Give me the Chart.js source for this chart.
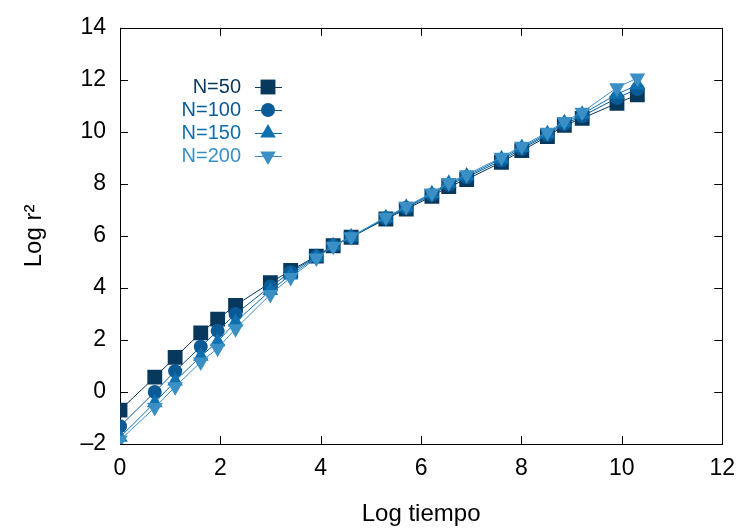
<!DOCTYPE html>
<html>
<head>
<meta charset="utf-8">
<script src="https://cdn.jsdelivr.net/npm/chart.js@4"></script>
<style>
  body { margin: 0; background: #fff; }
  #wrap { width: 746px; height: 529px; }
</style>
</head>
<body>
<div id="wrap"><canvas id="canvas"></canvas></div>
<script>
// log(tiempo) for each sample
const logTiempo = [0, 0.693, 1.099, 1.609, 1.946, 2.303, 2.996, 3.401, 3.912, 4.248, 4.605,
  5.298, 5.704, 6.215, 6.551, 6.908, 7.601, 8.006, 8.517, 8.854, 9.210, 9.903, 10.309];

// log r^2 per N
const n50 = [-0.7, 0.57, 1.33, 2.27, 2.80, 3.33, 4.2, 4.67, 5.22, 5.62, 5.95, 6.65, 7.03,
  7.52, 7.90, 8.17, 8.83, 9.28, 9.82, 10.25, 10.52, 11.1, 11.42];
const n100 = [-1.32, 0.0, 0.8, 1.74, 2.35, 3.0, 4.05, 4.6, 5.2, 5.63, 5.95, 6.68, 7.07,
  7.58, 7.97, 8.25, 8.9, 9.35, 9.88, 10.3, 10.6, 11.3, 11.65];
const n150 = [-1.74, -0.41, 0.42, 1.37, 1.93, 2.69, 3.9, 4.5, 5.18, 5.62, 5.96, 6.7, 7.1,
  7.62, 8.02, 8.3, 8.97, 9.4, 9.93, 10.35, 10.68, 11.45, 11.8];
const n200 = [-1.85, -0.6, 0.2, 1.15, 1.68, 2.43, 3.75, 4.4, 5.15, 5.6, 5.97, 6.72, 7.13,
  7.65, 8.05, 8.35, 9.02, 9.45, 9.98, 10.4, 10.75, 11.7, 12.07];

const seriesLabels = ['N=50', 'N=100', 'N=150', 'N=200'];
const xTicks = [0, 2, 4, 6, 8, 10, 12];
const yTicks = [-2, 0, 2, 4, 6, 8, 10, 12, 14];

const FONT = 'Liberation Sans, Arial, sans-serif';

function toPoints(ys) {
  return ys.map(function (y, i) { return { x: logTiempo[i], y: y }; });
}

const styles = [
  { color: '#08385c', pointStyle: 'rect', radius: 10.5, rotation: 0 },
  { color: '#0a5a95', pointStyle: 'circle', radius: 7, rotation: 0 },
  { color: '#0f70af', pointStyle: 'triangle', radius: 9, rotation: 0 },
  { color: '#3a8fc5', pointStyle: 'triangle', radius: 9, rotation: 180 }
];

const allSeries = [n50, n100, n150, n200];
const datasets = allSeries.map(function (ys, i) {
  const s = styles[i];
  return {
    label: seriesLabels[i],
    data: toPoints(ys),
    showLine: true,
    borderColor: s.color,
    backgroundColor: s.color,
    borderWidth: 1,
    pointStyle: s.pointStyle,
    pointRadius: s.radius,
    pointRotation: s.rotation,
    pointBorderWidth: 0,
    order: 4 - i
  };
});

// border with inward ticks on all sides (gnuplot style)
const frame = {
  id: 'frame',
  beforeDatasetsDraw(chart) {
    const ctx = chart.ctx;
    const a = chart.chartArea;
    const xs = chart.scales.x, ys = chart.scales.y;
    const len = 8;
    ctx.save();
    ctx.strokeStyle = '#000';
    ctx.lineWidth = 1;
    ctx.beginPath();
    xTicks.forEach(function (v) {
      const px = Math.round(xs.getPixelForValue(v)) + 0.5;
      ctx.moveTo(px, a.bottom); ctx.lineTo(px, a.bottom - len);
      ctx.moveTo(px, a.top); ctx.lineTo(px, a.top + len);
    });
    yTicks.forEach(function (v) {
      const py = Math.round(ys.getPixelForValue(v)) + 0.5;
      ctx.moveTo(a.left, py); ctx.lineTo(a.left + len, py);
      ctx.moveTo(a.right, py); ctx.lineTo(a.right - len, py);
    });
    ctx.stroke();
    ctx.strokeRect(Math.round(a.left) + 0.5, Math.round(a.top) + 0.5,
      Math.round(a.right - a.left), Math.round(a.bottom - a.top));
    ctx.restore();
  }
};

// legend: right aligned label, then a short line with the marker
const keyBox = {
  id: 'keyBox',
  afterDraw(chart) {
    const ctx = chart.ctx;
    ctx.save();
    ctx.font = '20px ' + FONT;
    ctx.textAlign = 'right';
    ctx.textBaseline = 'middle';
    const textRight = 241, lineL = 255, lineR = 282, mx = 268;
    const rowY = [87, 110, 133, 156];
    seriesLabels.forEach(function (lab, i) {
      const s = styles[i];
      const y = rowY[i];
      ctx.fillStyle = s.color;
      ctx.fillText(lab, textRight, y);
      ctx.strokeStyle = s.color;
      ctx.lineWidth = 1;
      ctx.beginPath();
      ctx.moveTo(lineL, y + 0.5); ctx.lineTo(lineR, y + 0.5);
      ctx.stroke();
      Chart.helpers.drawPoint(ctx, {
        pointStyle: s.pointStyle, radius: s.radius, rotation: s.rotation, borderWidth: 0
      }, mx, y);
    });
    ctx.restore();
  }
};

const config = {
  type: 'scatter',
  data: { datasets: datasets },
  options: {
    responsive: true,
    maintainAspectRatio: false,
    animation: false,
    layout: { padding: { top: 21, right: 20, left: 0, bottom: 0 } },
    plugins: { legend: { display: false }, tooltip: { enabled: false } },
    scales: {
      x: {
        type: 'linear', min: 0, max: 12,
        grid: { display: false, drawTicks: false },
        border: { display: false },
        afterFit: function (scale) { scale.height = 85; },
        afterBuildTicks: function (scale) { scale.ticks = xTicks.map(function (v) { return { value: v }; }); },
        ticks: { color: '#000', font: { family: FONT, size: 23 }, padding: 11 },
        title: { display: true, text: 'Log tiempo', color: '#000', font: { family: FONT, size: 24 }, padding: { top: 0, bottom: 0 } }
      },
      y: {
        type: 'linear', min: -2, max: 14,
        grid: { display: false, drawTicks: false },
        border: { display: false },
        afterFit: function (scale) { scale.width = 120; },
        afterBuildTicks: function (scale) { scale.ticks = yTicks.map(function (v) { return { value: v }; }); },
        ticks: {
          color: '#000', font: { family: FONT, size: 23 }, padding: 14,
          callback: function (v) { return String(v).replace('-', '\u2013'); }
        },
        title: { display: true, text: 'Log r\u00b2', color: '#000', font: { family: FONT, size: 24 }, padding: { top: 20, bottom: 0 } }
      }
    }
  },
  plugins: [frame, keyBox]
};

window.onload = function () {
  new Chart(document.getElementById('canvas'), config);
};
</script>
</body>
</html>
